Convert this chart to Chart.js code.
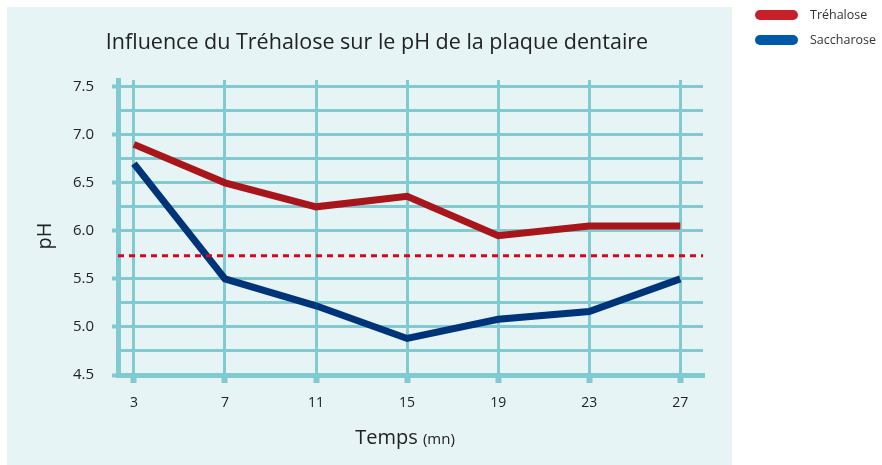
<!DOCTYPE html>
<html>
<head>
<meta charset="utf-8">
<script src="https://cdn.jsdelivr.net/npm/chart.js@4"></script>
<style>
  html, body { margin: 0; padding: 0; background: #fff; }
  #wrap { position: relative; width: 882px; height: 465px; }
</style>
</head>
<body>
<div id="wrap"><canvas id="chart" width="882" height="465"></canvas></div>
<script>
// Temps (mn)
const minutes = [3, 7, 11, 15, 19, 23, 27];
const trehalose = [6.9, 6.5, 6.25, 6.36, 5.95, 6.05, 6.05];
const saccharose = [6.7, 5.5, 5.22, 4.88, 5.08, 5.16, 5.5];
const criticalPH = 5.74;
const yTicks = [4.5, 4.75, 5.0, 5.25, 5.5, 5.75, 6.0, 6.25, 6.5, 6.75, 7.0, 7.25, 7.5];
const xRange = [2.3, 28];
const yRange = [4.5, 7.57];

const GRID = "#80cbd2";
const PANEL = "#e6f4f5";
const FONT = "'Open Sans', sans-serif";

const toPts = (vals) => vals.map((v, i) => ({ x: minutes[i], y: v }));
const isHalf = (v) => Math.abs(v * 2 - Math.round(v * 2)) < 1e-6;

// fond du panneau, titres et légende
const decor = {
  id: "decor",
  beforeDraw(chart) {
    const c = chart.ctx;
    c.save();
    c.fillStyle = PANEL;
    c.fillRect(7, 7, 725, 458);
    c.restore();
  },
  afterDraw(chart) {
    const c = chart.ctx;
    c.save();
    c.fillStyle = "#222";
    c.textBaseline = "middle";
    c.textAlign = "center";
    c.font = "21.5px " + FONT;
    c.fillText("Influence du Tréhalose sur le pH de la plaque dentaire", 377, 43);

    // titre axe x, avec "(mn)" plus petit
    c.textAlign = "left";
    c.font = "20px " + FONT;
    const w1 = c.measureText("Temps ").width;
    c.font = "15px " + FONT;
    const w2 = c.measureText("(mn)").width;
    let x0 = 405 - (w1 + w2) / 2;
    c.font = "20px " + FONT;
    c.fillText("Temps ", x0, 438);
    c.font = "15px " + FONT;
    c.fillText("(mn)", x0 + w1, 440);

    // titre axe y
    c.translate(45, 236);
    c.rotate(-Math.PI / 2);
    c.textAlign = "center";
    c.font = "20px " + FONT;
    c.fillText("pH", 0, 0);
    c.restore();

    // légende
    const items = [["Tréhalose", "#c8202a", 15], ["Saccharose", "#0058a8", 40]];
    c.save();
    c.lineCap = "round";
    c.lineWidth = 10;
    c.font = "12.5px " + FONT;
    c.textBaseline = "middle";
    items.forEach(([label, col, y]) => {
      c.strokeStyle = col;
      c.beginPath();
      c.moveTo(760, y);
      c.lineTo(793, y);
      c.stroke();
      c.fillStyle = "#333";
      c.fillText(label, 810, y);
    });
    c.restore();
  },
};

new Chart(document.getElementById("chart"), {
  type: "line",
  data: {
    datasets: [
      {
        label: "Seuil",
        data: [{ x: xRange[0], y: criticalPH }, { x: xRange[1], y: criticalPH }],
        borderColor: "#e3001b",
        borderWidth: 3,
        borderDash: [6, 5],
        pointRadius: 0,
      },
      {
        label: "Saccharose",
        data: toPts(saccharose),
        borderColor: "#00347a",
        borderWidth: 7,
        pointRadius: 0,
        tension: 0,
      },
      {
        label: "Tréhalose",
        data: toPts(trehalose),
        borderColor: "#a8151b",
        borderWidth: 7,
        pointRadius: 0,
        tension: 0,
      },
    ],
  },
  options: {
    responsive: false,
    animation: false,
    events: [],
    layout: { padding: { left: 0, top: 80, right: 179, bottom: 0 } },
    plugins: { legend: { display: false }, tooltip: { enabled: false } },
    scales: {
      x: {
        type: "linear",
        min: xRange[0],
        max: xRange[1],
        afterBuildTicks: (s) => { s.ticks = minutes.map((v) => ({ value: v })); },
        afterFit: (s) => { s.height = 90; },
        border: { color: GRID, width: 5 },
        grid: { color: GRID, lineWidth: 3, tickLength: 8, tickWidth: 6, tickColor: GRID },
        ticks: { color: "#222", font: { family: "Open Sans", size: 14 }, padding: 12, maxRotation: 0 },
      },
      y: {
        min: yRange[0],
        max: yRange[1],
        afterBuildTicks: (s) => { s.ticks = yTicks.map((v) => ({ value: v })); },
        afterFit: (s) => { s.width = 118; },
        border: { color: GRID, width: 5 },
        grid: {
          color: (ctx) => (ctx.tick && ctx.tick.value === 5.75 ? "rgba(0,0,0,0)" : GRID),
          lineWidth: 3,
          tickLength: 6,
          tickWidth: 4,
          tickColor: (ctx) => (ctx.tick && isHalf(ctx.tick.value) ? GRID : "rgba(0,0,0,0)"),
        },
        ticks: {
          color: "#222",
          font: { family: "Open Sans", size: 15 },
          padding: 18,
          callback: (v) => (isHalf(v) ? v.toFixed(1) : ""),
        },
      },
    },
  },
  plugins: [decor],
});
</script>
</body>
</html>
